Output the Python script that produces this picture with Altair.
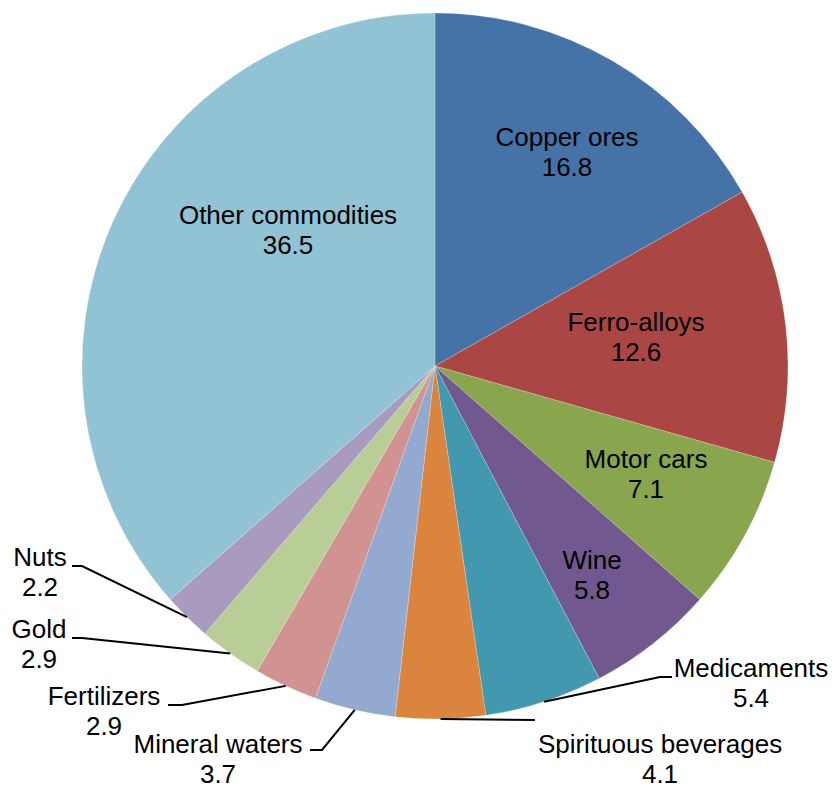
import math
import altair as alt
import pandas as pd

# ---- data ----
categories = ["Copper ores", "Ferro-alloys", "Motor cars", "Wine", "Medicaments",
              "Spirituous beverages", "Mineral waters", "Fertilizers", "Gold", "Nuts",
              "Other commodities"]
values = [16.8, 12.6, 7.1, 5.8, 5.4, 4.1, 3.7, 2.9, 2.9, 2.2, 36.5]
value_labels = ["16.8", "12.6", "7.1", "5.8", "5.4", "4.1", "3.7", "2.9", "2.9", "2.2", "36.5"]
colors = ["#4572A7", "#AA4643", "#89A54E", "#71588F", "#4198AF", "#DB843D",
          "#93A9CF", "#D19392", "#B9CD96", "#A99BBD", "#92C3D4"]

# ---- layout (chart pixel coordinates) ----
W, H = 822, 781
CX, CY, R = 427, 358, 353
FONT = "Liberation Sans"
FS = 26

# inside labels: block centre
inside_layout = {
    "Copper ores": (559, 145),
    "Ferro-alloys": (628, 330),
    "Motor cars": (638, 467),
    "Wine": (584, 568),
    "Other commodities": (280, 223),
}
# leader labels: elbow point, end of horizontal tail, text block centre
leader_layout = {
    "Medicaments": ((652, 669), (664, 669), (743, 676)),
    "Spirituous beverages": ((527, 712), (527, 712), (652, 752)),
    "Mineral waters": ((314, 742), (302, 742), (210, 752)),
    "Fertilizers": ((174, 697), (160, 697), (96, 704)),
    "Gold": ((74, 630), (64, 630), (31, 637)),
    "Nuts": ((74, 558), (64, 558), (32, 565)),
}
HALF = 15  # half line spacing

total = sum(values)
df = pd.DataFrame({"cat": categories, "value": values, "vlabel": value_labels,
                   "idx": list(range(len(categories)))})

# arc edge points at the middle angle of each slice (derived from data)
cum = 0.0
edge = {}
for c, v in zip(categories, values):
    mid = (cum + v / 2) / total * 2 * math.pi
    edge[c] = (CX + R * math.sin(mid), CY - R * math.cos(mid))
    cum += v

text_rows = []
for c, vl in zip(categories, value_labels):
    if c in inside_layout:
        x, y = inside_layout[c]
    else:
        x, y = leader_layout[c][2]
    text_rows.append({"cat": c, "x": x, "y": y - HALF, "t": c})
    text_rows.append({"cat": c, "x": x, "y": y + HALF, "t": vl})
text_df = pd.DataFrame(text_rows)

line_rows = []
for c, (elbow, tail, _) in leader_layout.items():
    ex, ey = edge[c]
    pts = [(ex, ey), elbow, tail]
    for i, (px, py) in enumerate(pts):
        line_rows.append({"cat": c, "step": i, "x": px, "y": py})
line_df = pd.DataFrame(line_rows)

arcs = alt.Chart(df).mark_arc(outerRadius=R, stroke="white", strokeWidth=0.3,
                              strokeOpacity=0.7).encode(
    theta=alt.Theta("value:Q", stack=True),
    order=alt.Order("idx:Q"),
    color=alt.Color("cat:N", scale=alt.Scale(domain=categories, range=colors), legend=None),
    x=alt.value(CX),
    y=alt.value(CY),
)

lines = alt.Chart(line_df).mark_line(color="black", strokeWidth=2).encode(
    x=alt.X("x:Q", scale=None, axis=None),
    y=alt.Y("y:Q", scale=None, axis=None),
    detail="cat:N",
    order="step:Q",
)

texts = alt.Chart(text_df).mark_text(font=FONT, fontSize=FS, color="black",
                                     align="center", baseline="middle").encode(
    x=alt.X("x:Q", scale=None, axis=None),
    y=alt.Y("y:Q", scale=None, axis=None),
    text="t:N",
)

chart = alt.layer(arcs, lines, texts).properties(
    width=W, height=H,
    autosize=alt.AutoSizeParams(type="none"),
    padding=0,
).configure_view(stroke=None)

chart.save("out.html", embed_options={"renderer": "svg", "actions": False})
